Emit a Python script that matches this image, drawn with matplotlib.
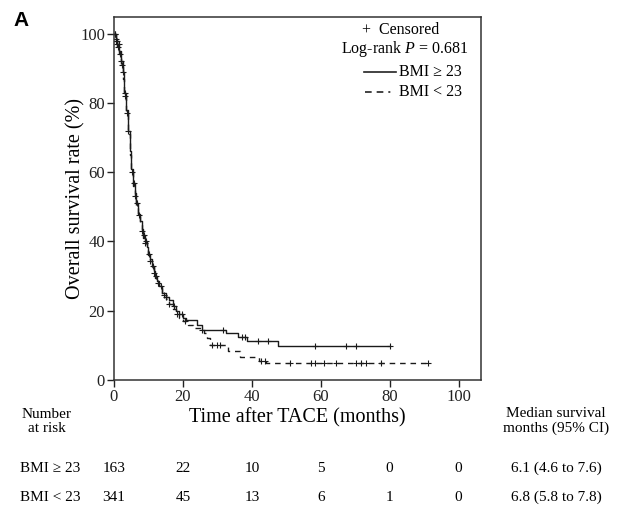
import numpy as np
import matplotlib
matplotlib.use("Agg")
import matplotlib.pyplot as plt
import matplotlib.transforms as mtransforms
from matplotlib.lines import Line2D

plt.rcParams['font.family'] = ['Liberation Serif', 'DejaVu Serif']
plt.rcParams['mathtext.fontset'] = 'custom'
plt.rcParams['mathtext.it'] = 'Liberation Serif:italic'

# --- Kaplan-Meier steps: (time in months, survival %)
hi_time = [0, 0.5, 1.0, 1.5, 2.0, 2.5, 3.0, 3.5, 4.0, 4.5, 5.0, 5.5, 6.0, 6.5, 7.0, 7.5,
           8.0, 8.5, 9.0, 9.5, 10, 10.5, 11, 11.5, 12, 12.5, 13, 14, 15, 16, 17, 18,
           19, 20, 21, 24, 25.4, 32.5, 36, 38.5, 47.6, 80]
hi_surv = [100, 98.5, 97, 95, 92, 89, 83, 78, 72, 66, 61, 57, 54, 51, 48, 46,
           43.5, 42, 40, 38.5, 36.5, 35, 33, 31.5, 30, 28.5, 27, 25, 24, 23, 21.5, 20,
           19, 18, 17.2, 15.9, 14.5, 13.5, 12.3, 11.3, 9.9, 9.9]
hi_cens = [0.3, 0.6, 1.0, 1.4, 2.0, 2.6, 3.2, 4.1, 5.8, 6.6, 8.7, 9.4, 10.2, 11.3, 12.1,
           13.5, 15.2, 17.4, 19.6, 25.4, 31.5, 37, 38, 41.8, 44.7, 58.3, 67.4, 70.1, 80]

lo_time = [0, 0.5, 1.0, 1.5, 2.0, 2.5, 3.0, 3.5, 4.0, 4.5, 5.0, 5.5, 6.0, 6.5, 7.0, 7.5,
           8.0, 8.5, 9.0, 9.5, 10, 10.5, 11, 11.5, 12, 12.5, 13, 14, 15, 16, 17, 18,
           19, 20, 21.5, 23, 26, 27, 28, 33, 36.5, 42, 44, 91.1]
lo_surv = [100, 98, 96, 94, 91, 87, 82, 77, 71, 65, 60, 56, 53, 50, 47.5, 45,
           43, 41, 39.5, 38, 36, 34.5, 32.5, 31, 29.5, 28, 26.5, 24.5, 23.5, 22, 20.5, 19,
           18, 17, 16, 15, 13.5, 12, 10.1, 8.3, 6.6, 5.6, 4.8, 4.8]
lo_cens = [0.2, 0.5, 0.8, 1.2, 1.8, 2.4, 3.3, 3.8, 5.2, 6.2, 7.3, 8.2, 9.1, 10.5, 11.6,
           12.8, 14.4, 16.1, 18.2, 20.5, 28.3, 29.8, 30.8, 42.8, 43.7, 51, 57.3, 58.3,
           60.9, 64.5, 70.3, 71.8, 73.2, 77.6, 91.1]

# number at risk table
risk_times = [0, 20, 40, 60, 80, 100]
risk_hi = [163, 22, 10, 5, 0, 0]
risk_lo = [341, 45, 13, 6, 1, 0]
group_names = ["BMI \u2265 23", "BMI < 23"]
median_txt = ["6.1 (4.6 to 7.6)", "6.8 (5.8 to 7.8)"]


def surv_at(times, surv, t):
    idx = np.searchsorted(times, t, side='right') - 1
    return np.array(surv)[idx]


fig = plt.figure(figsize=(6.21, 5.11), dpi=100)
ax = fig.add_axes([114 / 621, 1 - 380 / 511, 367 / 621, 363 / 511])

ax.step(hi_time, hi_surv, where='post', color='#1a1a1a', lw=1.0)
ax.step(lo_time, lo_surv, where='post', color='#1a1a1a', lw=1.0, linestyle=(0, (4, 3.5)))
ax.plot(hi_cens, surv_at(hi_time, hi_surv, hi_cens), '+', color='#1a1a1a', ms=4.5, mew=0.8)
ax.plot(lo_cens, surv_at(lo_time, lo_surv, lo_cens), '+', color='#1a1a1a', ms=4.5, mew=0.8)

ax.set_xlim(0, 106.5)
ax.set_ylim(0, 104.8)
ax.set_xticks(risk_times)
ax.set_yticks([0, 20, 40, 60, 80, 100])
ax.tick_params(direction='out', length=5, width=1, pad=1.5, labelsize=12, colors='#222222')
for s in ax.spines.values():
    s.set_linewidth(1.1)
    s.set_color('#333333')
ax.set_xlabel("Time after TACE (months)", fontsize=14.5, labelpad=2)
ax.set_ylabel("Overall survival rate (%)", fontsize=14.5, labelpad=-4)

# legend block
ax.text(0.782, 0.964, "+  Censored", transform=ax.transAxes, ha='center', va='center', fontsize=11.5)
ax.text(0.966, 0.912, "Log-rank $P$ = 0.681", transform=ax.transAxes, ha='right', va='center',
        fontsize=11.5)
ax.add_line(Line2D([0.681, 0.768], [0.848, 0.848], transform=ax.transAxes, color='#222222', lw=1.2))
ax.text(0.947, 0.848, group_names[0], transform=ax.transAxes, ha='right', va='center', fontsize=11.5)
ax.add_line(Line2D([0.683, 0.762], [0.793, 0.793], transform=ax.transAxes, color='#222222', lw=1.2,
                   linestyle=(0, (4, 3, 4, 3, 1.2, 3))))
ax.text(0.947, 0.793, group_names[1], transform=ax.transAxes, ha='right', va='center', fontsize=11.5)

fig.text(21 / 621, 1 - 20 / 511, "A", fontsize=15, fontweight='bold', family='Liberation Sans',
         ha='center', va='center')

# risk table below
tr = mtransforms.blended_transform_factory(ax.transData, fig.transFigure)
fig.text(47 / 621, 1 - 421 / 511, "Number\nat risk", ha='center', va='center', fontsize=11,
         linespacing=1.1)
fig.text(556 / 621, 1 - 421 / 511, "Median survival\nmonths (95% CI)", ha='center', va='center',
         fontsize=11, linespacing=1.1)
row_y = [1 - 468 / 511, 1 - 497 / 511]
for yy, name, counts, med in zip(row_y, group_names, [risk_hi, risk_lo], median_txt):
    fig.text(20 / 621, yy, name, ha='left', va='center', fontsize=11)
    for t, n in zip(risk_times, counts):
        ax.text(t, yy, str(n), transform=tr, ha='center', va='center', fontsize=11)
    fig.text(556 / 621, yy, med, ha='center', va='center', fontsize=11)

fig.savefig("out.png", dpi=100)
